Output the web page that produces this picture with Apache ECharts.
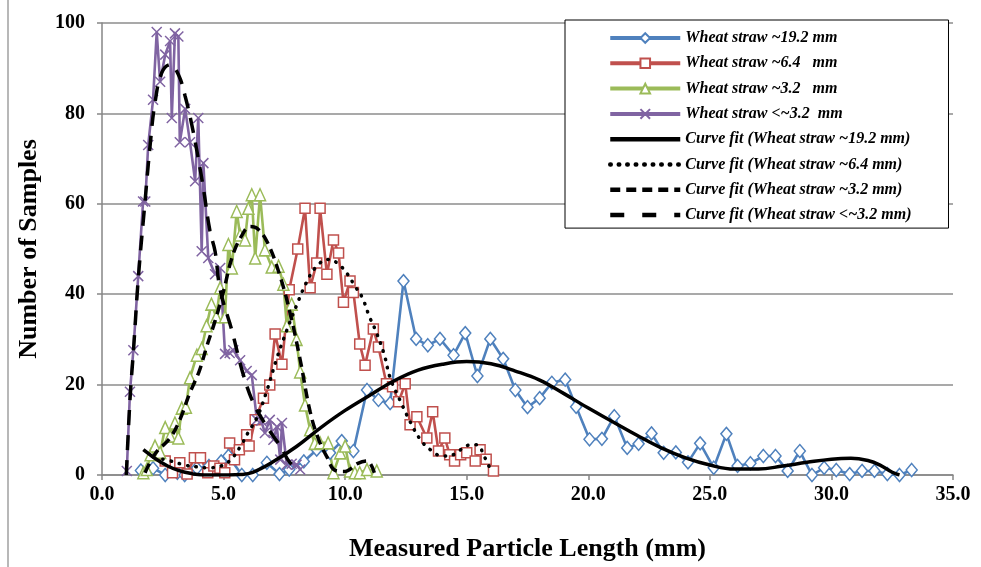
<!DOCTYPE html>
<html>
<head>
<meta charset="utf-8">
<script src="https://cdn.jsdelivr.net/npm/echarts@6/dist/echarts.min.js"></script>
<style>html,body{margin:0;padding:0;background:#fff}#c{width:981px;height:567px}</style>
</head>
<body>
<div id="c"></div>
<script>
// ---- data ----
var xTicks = ['0.0','5.0','10.0','15.0','20.0','25.0','30.0','35.0'];
var yTicks = [0,20,40,60,80,100];

var seriesNames = ['Wheat straw ~19.2 mm','Wheat straw ~6.4   mm','Wheat straw ~3.2   mm','Wheat straw <~3.2  mm',
  'Curve fit (Wheat straw ~19.2 mm)','Curve fit (Wheat straw ~6.4 mm)','Curve fit (Wheat straw ~3.2 mm)','Curve fit (Wheat straw <~3.2 mm)'];

var blueX = [1.6,2.1,2.6,3.1,3.4,3.9,4.4,4.9,5.2,5.75,6.2,6.78,7.3,7.7,8.3,8.83,9.38,9.86,10.34,10.9,11.37,11.85,12.4,12.92,13.4,13.9,14.46,14.94,15.44,15.97,16.5,17.0,17.5,18.0,18.5,19.05,19.5,20.05,20.56,21.07,21.6,22.07,22.6,23.1,23.6,24.1,24.6,25.16,25.68,26.14,26.67,27.2,27.7,28.2,28.7,29.2,29.7,30.2,30.75,31.26,31.77,32.3,32.8,33.3];
var blueY = [1,1.5,0,0.5,0,1.5,2,3,4.2,0,0,2.7,0.2,1.2,3,5.6,4.9,7.5,5.3,18.8,16.6,15.9,42.9,30.1,28.7,30.1,26.5,31.4,21.9,30.1,25.7,18.8,15,17,20.4,21.1,15.1,7.9,8,13,6,6.9,9.2,4.9,5,2.8,7,1.6,9.1,2,2.6,4.2,4.2,0.9,5.3,0,1.6,1.1,0.2,0.9,0.9,0.2,0,1.1];

var redX = [2.6,2.9,3.2,3.5,3.8,4.05,4.35,4.6,4.85,5.05,5.25,5.45,5.65,5.95,6.05,6.3,6.64,6.9,7.12,7.4,7.7,8.05,8.35,8.56,8.83,8.97,9.25,9.52,9.73,9.93,10.2,10.34,10.6,10.82,11.16,11.37,11.7,11.95,12.2,12.47,12.67,12.95,13.36,13.6,13.84,14.1,14.3,14.5,14.75,15.0,15.35,15.55,15.8,16.1];
var redY = [3.1,0.5,2.7,0.2,3.8,3.8,0.5,2,1.5,0.5,7.1,3.4,5.6,8.9,6.4,12.2,17,19.9,31.2,24.5,41,50,59,41.4,46.9,59,44.4,52,49.1,38.2,42.9,40.4,29,24.3,32.3,28.3,20.2,19.5,16.2,20.2,11.1,12.9,8.2,14,5.3,8.2,4.5,3.1,4.5,4.9,3.1,5.6,3.5,0.9];

var greenX = [1.7,1.84,2.0,2.18,2.39,2.6,2.8,3.0,3.14,3.28,3.45,3.62,3.9,4.1,4.3,4.5,4.7,4.86,5.06,5.2,5.34,5.54,5.68,5.88,6.02,6.16,6.3,6.5,6.7,6.98,7.26,7.46,7.6,7.8,8.0,8.15,8.35,8.56,8.75,8.97,9.3,9.52,9.8,10.0,10.2,10.4,10.6,10.9,11.3];
var greenY = [0.5,1.2,4.5,6.4,5,10.5,8.6,11.5,8.2,14.8,15,21.5,26.5,28,33,37.8,35,41.4,35,51,45.8,58.3,53.1,52,59,62,48,62,49.8,46,46.2,42.2,33,37.8,30,22.8,15.5,10,7,7.1,7.1,0.5,4.9,6.4,0.9,0.5,0.5,1.2,0.9];

var purpleX = [1.02,1.15,1.29,1.49,1.69,1.78,1.9,2.1,2.25,2.39,2.6,2.8,2.87,3.0,3.14,3.2,3.42,3.62,3.83,3.96,4.1,4.17,4.37,4.65,4.86,5.06,5.25,5.4,5.68,5.95,6.16,6.37,6.55,6.7,6.9,7.05,7.19,7.33,7.4,7.6,7.8,8.0,8.15];
var purpleY = [0.9,18.4,27.6,44,60.5,60.5,73,83,98,87,93,96,79,97.7,97,73.6,81,73.6,65,79,49.5,69,48,44.4,45.8,26.8,27,27.6,25.4,23,22.1,12.2,12,9.3,12.2,7.8,10.7,3.4,11.5,2.3,2.5,2.3,1.2];

var fit192X = [1.7,2.2,2.7,3.2,3.7,4.2,4.7,5.2,5.7,6.2,7,8,9,10,11,12,13,14,15,16,17,18,19,20,21,22,23,24,25,26,27,28,29,30,30.8,31.5,32,32.5,32.8];
var fit192Y = [5.6,3.6,2.0,0.9,0.3,0,0,0,0.1,0.6,2.8,6.3,10.5,14.3,17.6,20.8,23.2,24.5,25.1,24.6,23,21,18,14.8,11.8,8.8,6,3.8,2.2,1.3,1.3,2,2.8,3.5,3.7,3.2,2.2,0.6,0];

var fit64X = [2.5,2.9,3.4,3.9,4.3,4.9,5.3,5.7,6.0,6.4,6.8,7.2,7.6,8.0,8.4,8.8,9.3,9.7,10.1,10.4,10.7,11.0,11.25,11.6,11.85,12.25,12.7,13.1,13.5,14.0,14.5,15.0,15.4,15.75,15.95];
var fit64Y = [3.5,3,2.2,1.8,1.6,2,3.4,6.4,9.3,13,19,26,32,37.5,42.5,46,47.7,46.8,44.4,41.8,39.3,35,32,26.8,21.5,16.6,11.5,7.8,5.6,4.2,4.6,6.5,6.7,3.8,1.5];

var fit32X = [1.77,2.2,2.8,3.2,3.6,4.0,4.3,4.65,5.0,5.34,5.7,6.1,6.4,6.8,7.3,7.75,8.15,8.56,8.9,9.25,9.6,10.0,10.5,10.9,11.2];
var fit32Y = [0.5,4.8,8.2,12.2,18,23,28.3,34.1,40.7,48,52.5,55,54.5,51.5,44.4,35.5,25.5,14,8,4,1,0.8,2.5,3.1,0.5];

var fitLtX = [1.0,1.15,1.3,1.5,1.77,1.98,2.18,2.46,2.8,3.14,3.42,3.7,3.96,4.17,4.44,4.65,4.86,5.34,5.8,6.23,6.78,7.33,7.74,8.15];
var fitLtY = [0,16.6,28,44,60.5,73,82.4,89,90.8,88.6,83.8,77.3,70,63.4,54,49.5,41,32,22.4,15.9,10.7,6.4,2.7,1.2];

function pairs(xs, ys){ return xs.map(function(x,i){ return [x, ys[i]]; }); }

// ---- chart ----
var FONT = '"Liberation Serif","Times New Roman",serif';
var chart = echarts.init(document.getElementById('c'), null, {renderer:'canvas'});

function dataSeries(name, xs, ys, color, symbol, size){
  return {
    name: name, type: 'line', data: pairs(xs, ys), z: 2,
    symbol: symbol, symbolSize: size, showAllSymbol: true,
    lineStyle: {color: color, width: 2.6},
    itemStyle: {color: '#fff', borderColor: color, borderWidth: 1.5},
    emphasis: {disabled: true}
  };
}
function fitSeries(name, xs, ys, type, cap){
  return {
    name: name, type: 'line', data: pairs(xs, ys), z: 5,
    smooth: 0.4, symbol: 'none', showSymbol: false,
    lineStyle: {color: '#000', width: 3.5, type: type, cap: cap || 'butt'},
    itemStyle: {color: '#000'},
    emphasis: {disabled: true}
  };
}
var xSym = 'path://M0,0L10,10M10,0L0,10';

var legendDash = [null, null, null, null, 'solid', [0.5, 8], [10, 6], [14, 18]];
var legendData = seriesNames.map(function(n, i){
  if (i < 4) return {name: n, lineStyle: {width: 4}};
  return {name: n, itemStyle: {opacity: 0},
    lineStyle: {width: 4.5, type: legendDash[i], cap: i === 5 ? 'round' : 'butt'}};
});

var option = {
  animation: false,
  backgroundColor: '#fff',
  grid: {left: 102, right: 28, top: 23, bottom: 88, containLabel: false},
  xAxis: {
    type: 'value', min: 0, max: 35, interval: 5,
    name: 'Measured Particle Length (mm)', nameLocation: 'middle', nameGap: 61,
    nameTextStyle: {fontFamily: FONT, fontWeight: 'bold', fontSize: 26, color: '#000'},
    axisLine: {lineStyle: {color: '#868686', width: 1.5}},
    axisTick: {show: true, inside: false, length: 5, lineStyle: {color: '#868686', width: 1.5}},
    splitLine: {show: false},
    axisLabel: {fontFamily: FONT, fontWeight: 'bold', fontSize: 20, color: '#000', margin: 10,
      formatter: function(v){ return xTicks[Math.round(v/5)]; }}
  },
  yAxis: {
    type: 'value', min: 0, max: 100, interval: 20,
    name: 'Number of Samples', nameLocation: 'middle', nameGap: 60, nameRotate: 90,
    nameTextStyle: {fontFamily: FONT, fontWeight: 'bold', fontSize: 26, color: '#000'},
    axisLine: {show: true, lineStyle: {color: '#868686', width: 1.5}},
    axisTick: {show: true, inside: false, length: 5, lineStyle: {color: '#868686', width: 1.5}},
    splitLine: {show: true, lineStyle: {color: '#8c8c8c', width: 1.5}},
    axisLabel: {fontFamily: FONT, fontWeight: 'bold', fontSize: 20, color: '#000', margin: 17,
      formatter: function(v){ return yTicks.indexOf(v) >= 0 ? String(v) : ''; }}
  },
  legend: {
    data: legendData, orient: 'vertical', left: 565, top: 20,
    padding: [9, 37, 4, 43], itemWidth: 70, itemHeight: 12, itemGap: 7.3,
    backgroundColor: '#fff', borderColor: '#000', borderWidth: 1,
    textStyle: {fontFamily: FONT, fontStyle: 'italic', fontWeight: 'bold', fontSize: 16, lineHeight: 18, color: '#000'},
    selectedMode: false
  },
  graphic: [
    {type: 'line', shape: {x1: 8, y1: 0, x2: 8, y2: 567}, style: {stroke: '#a0a0a0', lineWidth: 1.5}, silent: true}
  ],
  series: [
    dataSeries(seriesNames[0], blueX, blueY, '#4F81BD', 'diamond', [11, 13]),
    dataSeries(seriesNames[1], redX, redY, '#C0504D', 'rect', 10),
    dataSeries(seriesNames[2], greenX, greenY, '#9BBB59', 'triangle', [11, 12]),
    {
      name: seriesNames[3], type: 'line', data: pairs(purpleX, purpleY), z: 2,
      symbol: xSym, symbolSize: 10, showAllSymbol: true,
      lineStyle: {color: '#8064A2', width: 2.6},
      itemStyle: {color: '#8064A2', borderColor: '#8064A2', borderWidth: 1.5},
      emphasis: {disabled: true}
    },
    fitSeries(seriesNames[4], fit192X, fit192Y, 'solid'),
    fitSeries(seriesNames[5], fit64X, fit64Y, [0.5, 8], 'round'),
    fitSeries(seriesNames[6], fit32X, fit32Y, [10, 6]),
    fitSeries(seriesNames[7], fitLtX, fitLtY, [15, 10])
  ]
};
chart.setOption(option);
</script>
</body>
</html>
